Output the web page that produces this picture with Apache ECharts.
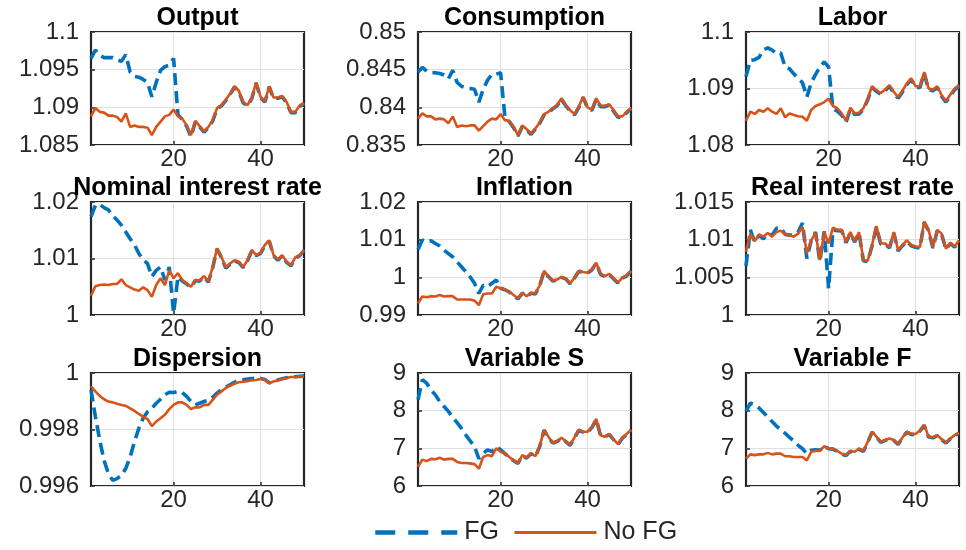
<!DOCTYPE html>
<html>
<head>
<meta charset="utf-8">
<script src="https://cdn.jsdelivr.net/npm/echarts@6/dist/echarts.min.js"></script>
<style>
html,body{margin:0;padding:0;background:#fff;}
#chart{width:966px;height:550px;}
</style>
</head>
<body>
<div id="chart"></div>
<script>
// ---------- data ----------
const periods = [1,2,3,4,5,6,7,8,9,10,11,12,13,14,15,16,17,18,19,20,21,22,23,24,25,26,27,28,29,30,31,32,33,34,35,36,37,38,39,40,41,42,43,44,45,46,47,48,49,50];
const xTicks = [20, 40];

const titles = ["Output","Consumption","Labor","Nominal interest rate","Inflation","Real interest rate","Dispersion","Variable S","Variable F"];
const seriesNames = ["FG", "No FG"];

const outputFG = [1.0965,1.0976,1.0969,1.0966,1.0966,1.0966,1.0963,1.0961,1.0970,1.0947,1.0941,1.0940,1.0937,1.0933,1.0914,1.0933,1.0949,1.0954,1.0956,1.0965,1.0890,1.0884,1.0875,1.0861,1.0881,1.0874,1.0867,1.0873,1.0882,1.0898,1.0902,1.0909,1.0917,1.0927,1.0921,1.0906,1.0902,1.0912,1.0932,1.0913,1.0907,1.0927,1.0912,1.0912,1.0914,1.0906,1.0893,1.0893,1.0901,1.0905];
const outputNoFG = [1.0888,1.0899,1.0894,1.0893,1.0889,1.0889,1.0887,1.0881,1.0892,1.0874,1.0876,1.0874,1.0874,1.0873,1.0863,1.0874,1.0881,1.0888,1.0890,1.0897,1.0888,1.0885,1.0876,1.0863,1.0882,1.0875,1.0868,1.0874,1.0883,1.0899,1.0903,1.0910,1.0918,1.0928,1.0922,1.0907,1.0903,1.0913,1.0933,1.0914,1.0908,1.0928,1.0913,1.0913,1.0915,1.0907,1.0894,1.0894,1.0902,1.0906];

const consumptionFG = [0.8447,0.8453,0.8448,0.8446,0.8446,0.8445,0.8443,0.8438,0.8449,0.8433,0.8428,0.8426,0.8425,0.8424,0.8407,0.8424,0.8436,0.8444,0.8444,0.8446,0.8387,0.8381,0.8373,0.8362,0.8375,0.8370,0.8364,0.8371,0.8379,0.8390,0.8393,0.8398,0.8402,0.8411,0.8402,0.8395,0.8390,0.8400,0.8413,0.8399,0.8396,0.8411,0.8401,0.8401,0.8403,0.8395,0.8387,0.8387,0.8393,0.8398];
const consumptionNoFG = [0.8385,0.8392,0.8388,0.8388,0.8384,0.8385,0.8384,0.8379,0.8388,0.8374,0.8376,0.8375,0.8376,0.8376,0.8369,0.8375,0.8381,0.8385,0.8384,0.8391,0.8383,0.8382,0.8374,0.8363,0.8376,0.8371,0.8365,0.8372,0.8380,0.8391,0.8394,0.8399,0.8403,0.8412,0.8403,0.8396,0.8391,0.8401,0.8414,0.8400,0.8397,0.8412,0.8402,0.8402,0.8404,0.8396,0.8388,0.8388,0.8394,0.8399];

const laborFG = [1.0921,1.0950,1.0951,1.0955,1.0968,1.0972,1.0968,1.0962,1.0963,1.0938,1.0935,1.0926,1.0918,1.0910,1.0885,1.0910,1.0925,1.0938,1.0947,1.0938,1.0864,1.0860,1.0853,1.0840,1.0864,1.0854,1.0855,1.0863,1.0880,1.0902,1.0895,1.0890,1.0896,1.0904,1.0892,1.0883,1.0894,1.0907,1.0916,1.0902,1.0902,1.0927,1.0898,1.0896,1.0902,1.0886,1.0876,1.0887,1.0898,1.0904];
const laborNoFG = [1.0843,1.0859,1.0855,1.0862,1.0859,1.0865,1.0859,1.0855,1.0865,1.0849,1.0856,1.0853,1.0851,1.0850,1.0843,1.0862,1.0869,1.0872,1.0876,1.0882,1.0869,1.0865,1.0856,1.0843,1.0866,1.0856,1.0857,1.0865,1.0882,1.0904,1.0897,1.0892,1.0898,1.0906,1.0894,1.0885,1.0896,1.0909,1.0918,1.0904,1.0904,1.0929,1.0900,1.0898,1.0904,1.0888,1.0878,1.0889,1.0900,1.0906];

const nominalFG = [1.0174,1.0194,1.0196,1.0190,1.0186,1.0176,1.0168,1.0159,1.0147,1.0135,1.0124,1.0109,1.0098,1.0091,1.0068,1.0079,1.0085,1.0062,1.0085,1.0003,1.0068,1.0060,1.0055,1.0049,1.0061,1.0060,1.0068,1.0058,1.0084,1.0117,1.0102,1.0083,1.0090,1.0096,1.0093,1.0084,1.0096,1.0114,1.0105,1.0109,1.0123,1.0131,1.0105,1.0097,1.0105,1.0093,1.0087,1.0101,1.0105,1.0114];
const nominalNoFG = [1.0034,1.0051,1.0053,1.0054,1.0053,1.0055,1.0055,1.0063,1.0053,1.0049,1.0045,1.0043,1.0049,1.0044,1.0032,1.0053,1.0065,1.0053,1.0079,1.0065,1.0074,1.0062,1.0056,1.0050,1.0062,1.0061,1.0069,1.0059,1.0085,1.0118,1.0103,1.0084,1.0091,1.0097,1.0094,1.0085,1.0097,1.0115,1.0106,1.0110,1.0124,1.0132,1.0106,1.0098,1.0106,1.0094,1.0088,1.0102,1.0106,1.0115];

const inflationFG = [1.0074,1.0099,1.0094,1.0097,1.0090,1.0083,1.0072,1.0063,1.0054,1.0041,1.0028,1.0015,1.0001,0.9984,0.9957,0.9979,0.9975,0.9984,0.9993,0.9971,0.9967,0.9961,0.9952,0.9943,0.9958,0.9949,0.9958,0.9956,0.9978,1.0016,1.0002,0.9990,0.9993,1.0000,0.9996,0.9983,0.9998,1.0016,1.0013,1.0011,1.0020,1.0038,1.0008,1.0002,1.0008,0.9996,0.9985,0.9998,1.0004,1.0016];
const inflationNoFG = [0.9931,0.9949,0.9947,0.9950,0.9949,0.9953,0.9949,0.9950,0.9950,0.9941,0.9941,0.9941,0.9941,0.9938,0.9926,0.9955,0.9957,0.9957,0.9975,0.9971,0.9968,0.9962,0.9953,0.9944,0.9959,0.9950,0.9959,0.9957,0.9979,1.0017,1.0003,0.9991,0.9994,1.0001,0.9997,0.9984,0.9999,1.0017,1.0014,1.0012,1.0021,1.0039,1.0009,1.0003,1.0009,0.9997,0.9986,0.9999,1.0005,1.0017];

const realFG = [1.0065,1.0113,1.0097,1.0106,1.0101,1.0108,1.0106,1.0115,1.0116,1.0107,1.0106,1.0106,1.0110,1.0122,1.0075,1.0099,1.0110,1.0071,1.0111,1.0035,1.0113,1.0112,1.0112,1.0096,1.0109,1.0097,1.0109,1.0072,1.0071,1.0092,1.0117,1.0094,1.0094,1.0089,1.0109,1.0085,1.0092,1.0098,1.0092,1.0090,1.0089,1.0123,1.0112,1.0089,1.0112,1.0107,1.0087,1.0095,1.0090,1.0098];
const realNoFG = [1.0084,1.0108,1.0098,1.0107,1.0104,1.0109,1.0104,1.0110,1.0112,1.0107,1.0106,1.0104,1.0108,1.0117,1.0082,1.0099,1.0109,1.0073,1.0110,1.0095,1.0116,1.0113,1.0113,1.0097,1.0110,1.0098,1.0110,1.0073,1.0072,1.0093,1.0118,1.0095,1.0095,1.0090,1.0110,1.0086,1.0093,1.0099,1.0093,1.0091,1.0090,1.0124,1.0113,1.0090,1.0113,1.0108,1.0088,1.0096,1.0091,1.0099];

const dispersionFG = [0.99941,0.99846,0.99763,0.99691,0.99644,0.99620,0.99626,0.99638,0.99662,0.99703,0.99757,0.99804,0.99840,0.99863,0.99875,0.99893,0.99907,0.99923,0.99932,0.99931,0.99935,0.99931,0.99917,0.99899,0.99887,0.99893,0.99899,0.99903,0.99914,0.99929,0.99941,0.99950,0.99958,0.99967,0.99974,0.99976,0.99979,0.99980,0.99980,0.99981,0.99977,0.99965,0.99971,0.99975,0.99980,0.99983,0.99986,0.99987,0.99988,0.99989];
const dispersionNoFG = [0.99953,0.99935,0.99919,0.99907,0.99899,0.99896,0.99891,0.99887,0.99884,0.99875,0.99866,0.99855,0.99846,0.99837,0.99812,0.99828,0.99840,0.99852,0.99872,0.99887,0.99896,0.99896,0.99887,0.99872,0.99879,0.99878,0.99887,0.99887,0.99905,0.99923,0.99935,0.99947,0.99955,0.99962,0.99967,0.99969,0.99971,0.99974,0.99975,0.99979,0.99976,0.99964,0.99970,0.99974,0.99979,0.99982,0.99986,0.99986,0.99988,0.99988];

const varSFG = [8.29,8.82,8.73,8.55,8.42,8.24,8.11,7.98,7.82,7.68,7.53,7.35,7.20,7.04,6.73,6.87,6.96,6.91,7.04,6.96,6.86,6.76,6.67,6.60,6.81,6.74,6.86,6.78,7.05,7.48,7.30,7.14,7.18,7.27,7.18,7.08,7.28,7.48,7.43,7.43,7.55,7.77,7.34,7.30,7.37,7.23,7.10,7.27,7.37,7.48];
const varSNoFG = [6.51,6.70,6.66,6.72,6.71,6.75,6.70,6.72,6.72,6.64,6.61,6.61,6.60,6.58,6.46,6.77,6.82,6.79,7.00,6.91,6.87,6.77,6.68,6.61,6.82,6.75,6.87,6.79,7.06,7.49,7.31,7.15,7.19,7.28,7.19,7.09,7.29,7.49,7.44,7.44,7.56,7.78,7.35,7.31,7.38,7.24,7.11,7.28,7.38,7.49];

const varFFG = [7.98,8.20,8.16,8.07,7.95,7.84,7.71,7.59,7.50,7.40,7.29,7.20,7.08,6.99,6.86,6.95,6.96,6.95,7.06,6.99,6.98,6.92,6.85,6.81,6.92,6.90,6.98,6.92,7.16,7.43,7.30,7.16,7.21,7.25,7.21,7.10,7.28,7.43,7.37,7.37,7.46,7.61,7.30,7.28,7.34,7.23,7.14,7.25,7.34,7.40];
const varFNoFG = [6.73,6.84,6.82,6.84,6.84,6.88,6.84,6.86,6.86,6.79,6.79,6.77,6.77,6.77,6.68,6.91,6.93,6.93,7.06,6.99,6.99,6.93,6.86,6.82,6.93,6.91,6.99,6.93,7.17,7.44,7.31,7.17,7.22,7.26,7.22,7.11,7.29,7.44,7.38,7.38,7.47,7.62,7.31,7.29,7.35,7.24,7.15,7.26,7.35,7.41];

// y tick values per panel
const outputTicks = [1.085, 1.09, 1.095, 1.1];
const consumptionTicks = [0.835, 0.84, 0.845, 0.85];
const laborTicks = [1.08, 1.09, 1.1];
const nominalTicks = [1, 1.01, 1.02];
const inflationTicks = [0.99, 1, 1.01, 1.02];
const realTicks = [1, 1.005, 1.01, 1.015];
const dispersionTicks = [0.996, 0.998, 1];
const varSTicks = [6, 7, 8, 9];
const varFTicks = [6, 7, 8, 9];

const fgData = [outputFG, consumptionFG, laborFG, nominalFG, inflationFG, realFG, dispersionFG, varSFG, varFFG];
const noFgData = [outputNoFG, consumptionNoFG, laborNoFG, nominalNoFG, inflationNoFG, realNoFG, dispersionNoFG, varSNoFG, varFNoFG];
const yTicks = [outputTicks, consumptionTicks, laborTicks, nominalTicks, inflationTicks, realTicks, dispersionTicks, varSTicks, varFTicks];

// ---------- layout / style ----------
const colLeft = [91, 418, 746];
const rowTop = [32, 202, 373];
const plotW = 213, plotH = 113;
const FONT = "'Liberation Sans', Arial, Helvetica, sans-serif";
const BLUE = '#0072BD', ORANGE = '#D95319';
const TXT = '#262626';

const grids = [], xAxes = [], yAxes = [], series = [], titleList = [];
for (let i = 0; i < 9; i++) {
  const r = Math.floor(i / 3), c = i % 3;
  const ticks = yTicks[i];
  grids.push({
    left: colLeft[c], top: rowTop[r], width: plotW, height: plotH,
    show: true, borderColor: TXT, borderWidth: 2.2, backgroundColor: 'transparent'
  });
  titleList.push({
    text: titles[i], left: colLeft[c] + plotW / 2, top: rowTop[r] - 26, textAlign: 'center', padding: 0,
    textStyle: { fontFamily: FONT, fontWeight: 'bold', fontSize: 25, color: '#000' }
  });
  xAxes.push({
    type: 'value', gridIndex: i, min: 1, max: 50,
    axisLine: { show: false },
    axisTick: { show: true, inside: true, length: 4, customValues: xTicks, lineStyle: { color: TXT, width: 1.5 } },
    axisLabel: { customValues: xTicks, fontFamily: FONT, fontSize: 24, color: TXT, margin: 2 },
    splitLine: { show: true, lineStyle: { color: '#dfdfdf', width: 1 } }
  });
  yAxes.push({
    type: 'value', gridIndex: i, min: ticks[0], max: ticks[ticks.length - 1],
    axisLine: { show: false },
    axisTick: { show: true, inside: true, length: 4, customValues: ticks, lineStyle: { color: TXT, width: 1.5 } },
    axisLabel: { customValues: ticks, fontFamily: FONT, fontSize: 24, color: TXT, margin: 12,
      formatter: v => String(parseFloat(Number(v).toFixed(6))) },
    splitLine: { show: true, lineStyle: { color: '#dfdfdf', width: 1 } }
  });
  series.push({
    name: seriesNames[0], type: 'line', xAxisIndex: i, yAxisIndex: i,
    data: periods.map((t, k) => [t, fgData[i][k]]),
    symbol: 'none', showSymbol: false, clip: true, z: 2,
    lineStyle: { color: BLUE, width: 3.6, type: [12, 6] }, itemStyle: { color: BLUE }
  });
  series.push({
    name: seriesNames[1], type: 'line', xAxisIndex: i, yAxisIndex: i,
    data: periods.map((t, k) => [t, noFgData[i][k]]),
    symbol: 'none', showSymbol: false, clip: true, z: 3,
    lineStyle: { color: ORANGE, width: 2.6 }, itemStyle: { color: ORANGE }
  });
}

const chart = echarts.init(document.getElementById('chart'), null, { renderer: 'canvas' });
chart.setOption({
  animation: false,
  backgroundColor: '#fff',
  title: titleList,
  grid: grids,
  xAxis: xAxes,
  yAxis: yAxes,
  series: series,
  legend: {
    data: [
      { name: seriesNames[0], lineStyle: { type: [20, 13], width: 4.5 }, itemStyle: { opacity: 0 } },
      { name: seriesNames[1], lineStyle: { width: 3 }, itemStyle: { opacity: 0 } }
    ],
    left: 373, top: 520, padding: 0, itemWidth: 82, itemHeight: 28, itemGap: 14,
    itemStyle: { opacity: 0 },
    textStyle: { fontFamily: FONT, fontSize: 25, color: TXT, padding: [0, 0, 0, 2] }
  }
});
</script>
</body>
</html>
